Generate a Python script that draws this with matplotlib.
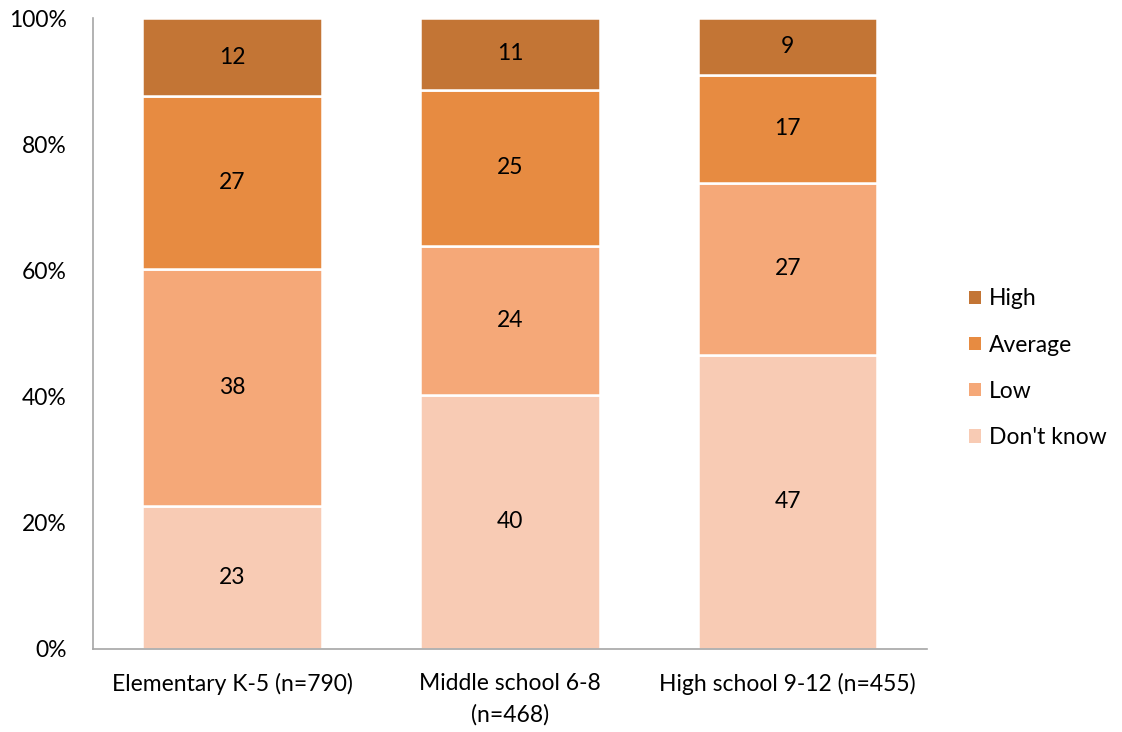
import numpy as np
import matplotlib.pyplot as plt
from matplotlib.patches import Patch

plt.rcParams['font.family'] = ['Lato', 'DejaVu Sans']

# dados (percentuais)
grupos = ['Elementary K-5 (n=790)', 'Middle school 6-8\n(n=468)', 'High school 9-12 (n=455)']
nao_sabe = [22.7, 40.3, 46.6]
baixo = [37.5, 23.6, 27.3]
medio = [27.4, 24.7, 17.1]
alto = [12.4, 11.4, 9.0]

series = [("Don't know", nao_sabe, '#F8CBB4'),
          ('Low', baixo, '#F5A878'),
          ('Average', medio, '#E78B41'),
          ('High', alto, '#C37535')]

fs = 16.5

fig = plt.figure(figsize=(11.22, 7.32), dpi=100)
ax = fig.add_axes([0.0829, 0.1134, 0.7431, 0.862])

x = np.arange(len(grupos))
base = np.zeros(len(grupos))
for nome, valores, cor in series:
    valores = np.array(valores, dtype=float)
    ax.bar(x, valores, width=0.645, bottom=base, color=cor,
           edgecolor='white', linewidth=1.8, label=nome, zorder=2)
    for xi, b, v in zip(x, base, valores):
        ax.text(xi, b + v / 2, f'{round(v):.0f}', ha='center', va='center',
                fontsize=fs, color='black', zorder=3)
    base += valores

ax.set_xlim(-0.5, 2.5)
ax.set_ylim(0, 100)
ax.set_yticks(np.arange(0, 101, 20))
ax.set_yticklabels([f'{v}%' for v in range(0, 101, 20)])
ax.set_xticks(x)
ax.set_xticklabels(grupos)
for lbl in ax.get_xticklabels():
    lbl.set_linespacing(1.6)
ax.tick_params(axis='both', length=0, labelsize=fs)
ax.tick_params(axis='y', pad=19)
ax.tick_params(axis='x', pad=17)

for lado in ['top', 'right']:
    ax.spines[lado].set_visible(False)
for lado in ['left', 'bottom']:
    ax.spines[lado].set_color('#A6A6A6')
    ax.spines[lado].set_linewidth(1.2)

handles = [Patch(facecolor=cor, label=nome) for nome, _, cor in series[::-1]]
fig.legend(handles=handles, loc='center left', bbox_to_anchor=(0.845, 0.497),
           frameon=False, fontsize=fs, handlelength=0.52, handleheight=0.52,
           handletextpad=0.35, labelspacing=1.1)

fig.savefig('out.png', dpi=100)
